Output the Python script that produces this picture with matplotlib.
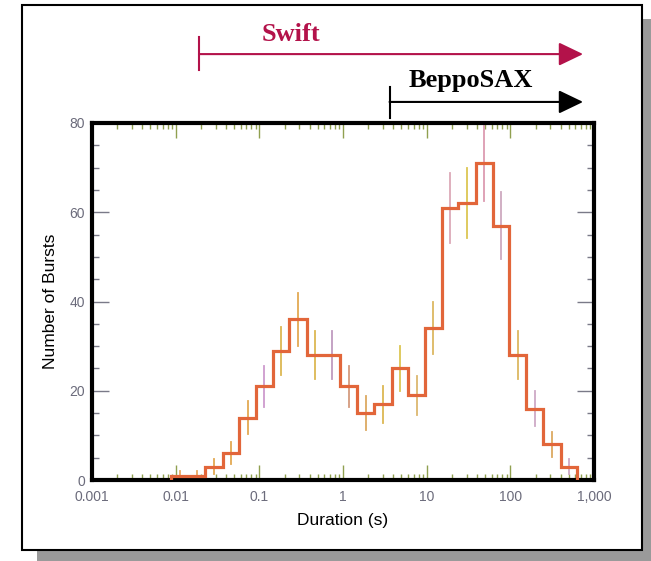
import numpy as np
import matplotlib
matplotlib.use("Agg")
import matplotlib.pyplot as plt
from matplotlib.patches import Rectangle
from matplotlib.ticker import FixedLocator, FixedFormatter, MultipleLocator, LogLocator, NullFormatter
import matplotlib.transforms as mtransforms

# --- data ---
log_edges = [-2.05, -1.85, -1.65, -1.44, -1.24, -1.04, -0.84, -0.64, -0.43, -0.23,
             -0.03, 0.17, 0.37, 0.58, 0.78, 0.98, 1.18, 1.38, 1.59, 1.79,
             1.99, 2.19, 2.39, 2.60, 2.80]
counts = [1, 1, 3, 6, 14, 21, 29, 36, 28, 28, 21, 15, 17, 25, 19, 34,
          61, 62, 71, 57, 28, 16, 8, 3]
err_colors = ['#e8a050', '#e8a050', '#e0a040', '#e0a040', '#e0a040', '#c890c8',
              '#d8b040', '#e0a040', '#d8b040', '#b890b8', '#d09070', '#d8a050',
              '#d8b040', '#d8c040', '#d8b060', '#d8b050', '#d8a0b0', '#d8c040',
              '#d890a8', '#c8a0b8', '#d8b050', '#c8a0c0', '#d8a050', '#c8a0c0']

xticks = [0.001, 0.01, 0.1, 1, 10, 100, 1000]
xtick_labels = ['0.001', '0.01', '0.1', '1', '10', '100', '1,000']
yticks = [0, 20, 40, 60, 80]

swift_start, sax_start, arrow_end = 0.019, 3.6, 740

plt.rcParams['font.family'] = ['Liberation Sans', 'DejaVu Sans']

fig = plt.figure(figsize=(6.51, 5.61), dpi=100)
fig.patch.set_facecolor('white')

# framed box with drop shadow
W, H = 651.0, 561.0
shadow = Rectangle((37 / W, -3 / H), 620 / W, 545 / H, transform=fig.transFigure,
                   facecolor='#9a9a9a', edgecolor='none', zorder=0)
frame = Rectangle((22 / W, 11 / H), 620 / W, 545 / H, transform=fig.transFigure,
                  facecolor='white', edgecolor='black', linewidth=1.5, zorder=1)
fig.patches.extend([shadow, frame])

ax = fig.add_axes([92 / W, 81 / H, 502 / W, 357 / H])
ax.set_zorder(2)
ax.set_facecolor('white')

edges = 10 ** np.array(log_edges)
centers = np.sqrt(edges[:-1] * edges[1:])
vals = np.array(counts)

# error bars
for c, v, col in zip(centers, vals, err_colors):
    e = np.sqrt(v)
    ax.plot([c, c], [max(v - e, 0), v + e], color=col, lw=1.3, alpha=0.9, zorder=2)

# histogram outline
ax.stairs(vals, edges, color='#e2663a', lw=2.3, zorder=3)

ax.set_xscale('log')
ax.set_xlim(1e-3, 1e3)
ax.set_ylim(0, 80)

ax.xaxis.set_major_locator(FixedLocator(xticks))
ax.xaxis.set_major_formatter(FixedFormatter(xtick_labels))
ax.xaxis.set_minor_locator(LogLocator(base=10, subs=np.arange(2, 10)))
ax.xaxis.set_minor_formatter(NullFormatter())
ax.yaxis.set_major_locator(FixedLocator(yticks))
ax.yaxis.set_minor_locator(MultipleLocator(5))

ax.tick_params(axis='x', which='both', direction='in', top=True, bottom=True,
               colors='#90a050', labelcolor='#6b6b7b', labelsize=10, pad=7)
ax.tick_params(axis='x', which='major', length=11, width=1)
ax.tick_params(axis='x', which='minor', length=4, width=1)
ax.tick_params(axis='y', which='both', direction='in', left=True, right=True,
               colors='#7a7a88', labelcolor='#6b6b7b', labelsize=10, pad=5)
ax.tick_params(axis='y', which='major', length=12, width=1)
ax.tick_params(axis='y', which='minor', length=5, width=1)

for side in ['left', 'bottom', 'right', 'top']:
    ax.spines[side].set_linewidth(3)
    ax.spines[side].set_color('black')

ax.set_xlabel('Duration (s)', fontsize=12.5, labelpad=7)
ax.set_ylabel('Number of Bursts', fontsize=12.5, labelpad=8)

# coverage arrows above the plot
trans = mtransforms.blended_transform_factory(ax.transData, ax.transAxes)
swift_col = '#b3124a'

ax.annotate('', xy=(arrow_end, 1.193), xytext=(swift_start, 1.193),
            xycoords=trans, textcoords=trans,
            arrowprops=dict(arrowstyle='-|>,head_length=1.5,head_width=0.72',
                            mutation_scale=10, color=swift_col, lw=1.5,
                            shrinkA=0, shrinkB=0))
ax.plot([swift_start, swift_start], [1.148, 1.241], transform=trans, color=swift_col,
        lw=1.5, clip_on=False)
ax.text(0.24, 1.2297, 'Swift', transform=trans, ha='center', va='baseline',
        fontsize=19, fontweight='bold', family=['Liberation Serif', 'DejaVu Serif'],
        color=swift_col)

ax.annotate('', xy=(arrow_end, 1.059), xytext=(sax_start, 1.059),
            xycoords=trans, textcoords=trans,
            arrowprops=dict(arrowstyle='-|>,head_length=1.5,head_width=0.72',
                            mutation_scale=10, color='black', lw=1.5,
                            shrinkA=0, shrinkB=0))
ax.plot([sax_start, sax_start], [1.014, 1.101], transform=trans, color='black',
        lw=1.5, clip_on=False)
ax.text(33.7, 1.1008, 'BeppoSAX', transform=trans, ha='center', va='baseline',
        fontsize=19, fontweight='bold', family=['Liberation Serif', 'DejaVu Serif'],
        color='black')

fig.savefig('out.png', dpi=100)
